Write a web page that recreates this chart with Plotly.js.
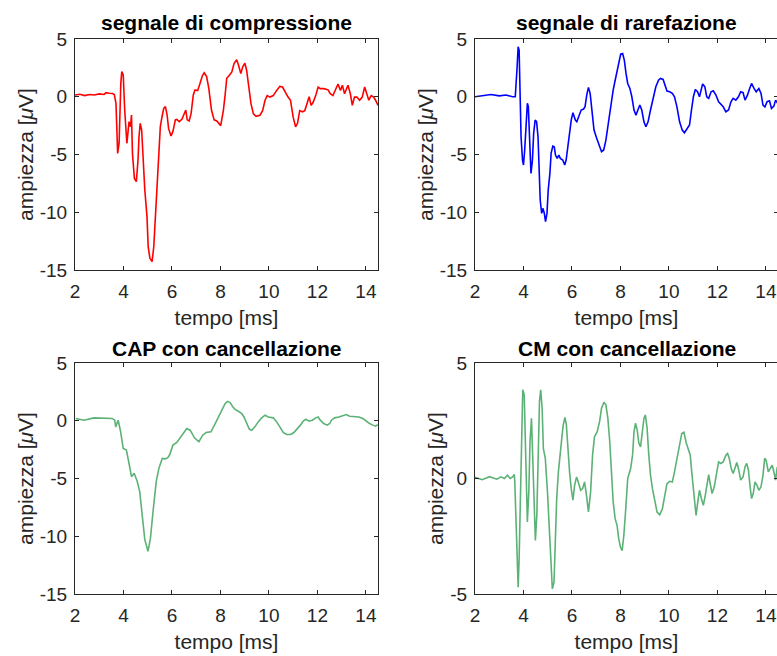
<!DOCTYPE html>
<html>
<head>
<meta charset="utf-8">
<script src="https://cdn.plot.ly/plotly-3.0.1.min.js"></script>
<style>
html, body { margin: 0; padding: 0; overflow: hidden; background: #fff; }
#chart { width: 780px; height: 656px; }
</style>
</head>
<body>
<div id="chart"></div>
<script>
// ---- data (time in ms, amplitude in microvolt) ----
const titles = ["segnale di compressione", "segnale di rarefazione", "CAP con cancellazione", "CM con cancellazione"];
const xTickVals = [2, 4, 6, 8, 10, 12, 14];
const yTickValsWide = [-15, -10, -5, 0, 5];
const yTickValsCM = [-5, 0, 5];

const tComp = [2.0,2.2,2.4,2.6,2.8,3.0,3.2,3.28,3.41,3.55,3.62,3.69,3.76,3.82,3.89,3.93,3.99,4.05,4.14,4.19,4.23,4.29,4.33,4.37,4.45,4.53,4.60,4.64,4.69,4.75,4.80,4.88,4.97,5.02,5.09,5.18,5.25,5.32,5.39,5.46,5.52,5.59,5.66,5.73,5.80,5.86,5.96,6.04,6.14,6.20,6.30,6.41,6.52,6.57,6.63,6.71,6.79,6.88,6.95,7.06,7.16,7.25,7.33,7.43,7.52,7.63,7.74,7.85,8.01,8.12,8.19,8.26,8.37,8.47,8.56,8.67,8.75,8.84,8.92,9.01,9.08,9.16,9.26,9.36,9.47,9.63,9.74,9.84,9.93,10.04,10.18,10.32,10.45,10.56,10.66,10.79,10.89,11.0,11.1,11.18,11.27,11.38,11.48,11.58,11.66,11.74,11.82,11.93,12.03,12.12,12.26,12.44,12.53,12.64,12.75,12.85,12.95,13.03,13.12,13.26,13.36,13.44,13.53,13.63,13.74,13.85,13.95,14.04,14.12,14.22,14.32,14.4,14.5];
const vComp = [0.15,0.22,0.1,0.2,0.15,0.25,0.2,0.35,0.3,0.28,0.2,-0.57,-4.9,-4.0,1.16,2.17,1.88,-1.15,-4.03,-3.17,-2.16,-2.59,-1.58,-4.9,-7.07,-7.35,-5.48,-3.46,-2.3,-2.88,-5.48,-8.08,-10.38,-12.98,-13.99,-14.28,-12.98,-10.38,-7.21,-4.32,-2.59,-1.73,-1.0,-0.86,-1.58,-2.74,-3.4,-3.0,-2.0,-1.96,-2.16,-1.96,-1.29,-1.15,-2.0,-2.1,-1.44,0.15,0.58,0.53,1.16,1.8,2.08,1.74,0.73,-1.15,-2.0,-2.1,-2.5,-1.2,0.1,1.6,1.86,2.15,2.87,3.2,2.7,2.0,2.6,2.9,2.3,0.84,-0.6,-1.48,-1.7,-1.6,-1.2,-0.3,0.1,-0.03,0.1,0.55,0.9,0.84,0.4,-0.03,-0.3,-1.77,-2.6,-2.3,-1.2,-1.3,-1.2,-0.5,0.0,-0.75,-0.5,0.1,0.84,0.7,0.7,0.6,0.26,0.1,0.7,1.1,0.55,1.0,0.26,1.0,0.26,-0.75,-0.03,-0.03,-0.3,-0.03,0.84,0.26,-0.3,0.1,-0.03,-0.3,-0.75];

const tRare = [2.0,2.3,2.66,3.0,3.28,3.55,3.66,3.73,3.78,3.82,3.86,3.9,3.96,4.0,4.05,4.11,4.16,4.2,4.26,4.31,4.37,4.42,4.48,4.54,4.6,4.64,4.69,4.75,4.8,4.86,4.91,4.97,5.02,5.09,5.14,5.21,5.27,5.32,5.39,5.46,5.52,5.62,5.7,5.76,5.82,5.89,5.97,6.04,6.14,6.2,6.3,6.38,6.48,6.54,6.61,6.68,6.75,6.82,6.91,7.02,7.13,7.22,7.31,7.4,7.5,7.61,7.7,7.77,7.85,7.93,8.01,8.09,8.16,8.23,8.3,8.39,8.47,8.56,8.64,8.72,8.8,8.88,8.97,9.05,9.14,9.24,9.35,9.46,9.57,9.65,9.76,9.84,9.92,10.03,10.14,10.23,10.33,10.44,10.55,10.64,10.74,10.85,10.93,11.01,11.09,11.18,11.26,11.33,11.39,11.48,11.56,11.64,11.74,11.83,11.94,12.05,12.16,12.24,12.35,12.46,12.56,12.65,12.76,12.87,12.96,13.06,13.14,13.24,13.33,13.41,13.51,13.6,13.71,13.8,13.88,13.96,14.05,14.15,14.23,14.33,14.4,14.5];
const vRare = [0.0,0.1,0.2,0.08,0.15,0.0,0.0,2.31,4.33,4.04,0.58,-3.46,-5.48,-5.91,-4.61,-1.73,-0.57,-0.86,-4.33,-6.64,-5.48,-3.17,-2.02,-2.16,-3.46,-6.35,-8.94,-10.1,-9.66,-10.1,-10.82,-10.1,-8.08,-6.64,-4.9,-4.27,-4.33,-5.05,-5.34,-5.05,-5.34,-5.48,-5.91,-5.48,-4.33,-3.17,-2.02,-1.38,-2.02,-2.16,-1.67,-1.15,-1.06,-0.86,0.15,0.81,0.29,-1.29,-2.88,-3.6,-4.33,-4.76,-4.61,-3.75,-2.31,-0.57,0.58,1.3,2.02,2.88,3.69,3.75,3.17,2.02,1.15,0.72,0.0,-1.15,-1.59,-1.15,-0.72,-1.15,-2.17,-2.6,-2.17,-1.15,0.0,0.87,1.44,1.59,1.5,0.87,0.49,0.43,0.29,0.0,-0.87,-2.17,-2.89,-3.12,-2.74,-2.45,-1.15,0.0,0.63,0.43,0.0,0.58,1.1,0.87,0.0,-0.14,0.43,0.52,0.14,-0.43,-0.64,-0.87,-1.3,-1.15,-0.43,-0.14,-0.29,0.0,0.43,0.35,-0.29,0.14,0.72,1.15,0.72,0.43,0.72,0.29,-0.72,-0.87,-0.43,-0.35,-1.01,-0.81,-0.29,-0.6];

const tCap = [2.03,2.37,2.78,3.03,3.19,3.53,3.64,3.68,3.78,3.87,3.99,4.12,4.23,4.33,4.44,4.56,4.67,4.78,4.88,5.01,5.11,5.22,5.35,5.46,5.6,5.73,5.83,5.9,6.04,6.2,6.42,6.61,6.75,6.93,7.11,7.27,7.41,7.61,7.82,7.99,8.1,8.19,8.29,8.4,8.51,8.6,8.74,8.88,8.97,9.08,9.19,9.29,9.42,9.56,9.7,9.84,9.97,10.18,10.32,10.45,10.59,10.73,10.89,11.03,11.16,11.3,11.41,11.52,11.66,11.79,11.93,12.03,12.12,12.26,12.4,12.51,12.58,12.71,12.89,12.99,13.08,13.19,13.33,13.53,13.71,13.88,14.01,14.15,14.29,14.4,14.49];
const vCap = [0.19,0.05,0.25,0.22,0.25,0.2,0.05,-0.53,0.04,-0.82,-2.4,-2.54,-3.7,-4.84,-4.55,-5.2,-6.13,-8.43,-10.3,-11.3,-10.2,-7.86,-5.27,-4.12,-3.26,-3.3,-3.2,-2.97,-2.11,-1.88,-1.25,-0.67,-0.82,-1.48,-1.82,-1.25,-1.02,-0.96,-0.1,0.62,1.11,1.48,1.68,1.57,1.2,0.99,0.82,0.62,0.33,-0.24,-0.73,-0.82,-0.53,-0.1,0.25,0.48,0.33,0.25,-0.1,-0.53,-1.02,-1.19,-1.19,-1.02,-0.73,-0.38,-0.04,0.13,-0.04,0.05,0.25,0.33,0.05,-0.24,-0.38,-0.24,0.05,0.25,0.33,0.39,0.48,0.54,0.39,0.39,0.33,0.19,-0.04,-0.24,-0.38,-0.47,-0.33];

const tCM = [2.0,2.3,2.6,2.9,3.07,3.21,3.34,3.45,3.55,3.62,3.64,3.68,3.73,3.78,3.82,3.86,3.92,3.97,4.03,4.07,4.12,4.16,4.22,4.27,4.33,4.38,4.44,4.49,4.55,4.6,4.66,4.71,4.77,4.82,4.9,4.99,5.05,5.12,5.19,5.26,5.3,5.37,5.44,5.51,5.58,5.64,5.71,5.77,5.84,5.9,5.97,6.04,6.11,6.19,6.26,6.36,6.44,6.52,6.6,6.68,6.77,6.85,6.93,7.04,7.14,7.22,7.32,7.4,7.48,7.56,7.63,7.7,7.78,7.86,7.93,8.0,8.07,8.14,8.22,8.3,8.42,8.5,8.56,8.62,8.69,8.76,8.83,8.88,8.97,9.03,9.1,9.17,9.24,9.32,9.42,9.51,9.62,9.73,9.83,9.92,10.03,10.14,10.23,10.33,10.44,10.53,10.62,10.71,10.81,10.88,10.94,11.01,11.07,11.12,11.19,11.26,11.34,11.42,11.5,11.59,11.64,11.69,11.78,11.87,11.97,12.05,12.14,12.24,12.35,12.42,12.49,12.57,12.65,12.73,12.8,12.87,12.96,13.06,13.14,13.21,13.28,13.35,13.41,13.48,13.55,13.63,13.71,13.8,13.88,13.95,14.01,14.1,14.18,14.26,14.33,14.4,14.47];
const vCM = [0.05,-0.05,0.08,-0.03,0.07,0.0,0.14,0.0,0.07,0.17,-0.08,-1.3,-3.05,-4.71,-3.48,-1.3,1.59,3.84,3.62,1.59,-0.58,-1.88,-0.58,1.59,2.61,0.87,-1.6,-2.68,-1.6,0.87,3.33,3.84,3.04,1.3,0.87,-0.58,-2.03,-3.62,-4.78,-4.49,-3.19,-0.87,0.29,1.16,1.74,2.32,2.64,2.32,1.16,0.29,-0.44,-0.94,-0.29,0.07,-0.15,-0.51,-0.44,-0.15,-0.73,-1.45,-0.58,1.01,1.81,2.03,2.46,3.04,3.3,3.19,2.61,1.59,0.29,-1.01,-1.74,-2.03,-2.61,-2.97,-3.12,-2.46,-1.3,0.0,0.43,1.01,2.03,2.39,2.1,1.52,1.37,1.88,2.61,2.75,2.17,1.01,0.14,-0.44,-1.01,-1.45,-1.57,-1.31,-0.73,-0.22,-0.12,-0.15,0.29,0.87,1.52,1.95,2.0,1.56,1.23,1.01,0.29,-0.44,-1.16,-1.6,-1.01,-0.51,-0.87,-1.16,-0.73,-0.15,0.17,-0.15,-0.65,-0.36,0.29,0.72,0.65,0.72,1.01,1.08,0.87,0.43,0.22,0.43,0.69,0.43,-0.07,0.07,0.51,0.65,0.36,-0.36,-0.87,-0.65,-0.15,-0.29,-0.51,-0.36,0.14,0.87,0.8,0.29,0.43,0.58,0.29,-0.07,0.5];

// ---- layout helpers ----
const W = 780, H = 656;
const FONT = "Liberation Sans, Arial, Helvetica, sans-serif";
const AXC = "#262626";
const px = x => x / W;
const py = y => 1 - y / H;

function xAxis(domain, anchor) {
  return {
    domain: domain, anchor: anchor, range: [2, 14.5],
    tickmode: "array", tickvals: xTickVals, ticktext: xTickVals.map(String),
    showline: true, linecolor: AXC, linewidth: 1, mirror: "ticks",
    ticks: "inside", ticklen: 4, tickcolor: AXC, tickwidth: 1,
    showgrid: false, zeroline: false, ticklabelstandoff: 4,
    tickfont: {family: FONT, size: 19, color: AXC},
    title: {text: "tempo [ms]", font: {family: FONT, size: 21, color: AXC}, standoff: 9}
  };
}
function yAxis(domain, anchor, range, ticks) {
  return {
    domain: domain, anchor: anchor, range: range,
    tickmode: "array", tickvals: ticks, ticktext: ticks.map(String),
    showline: true, linecolor: AXC, linewidth: 1, mirror: "ticks",
    ticks: "inside", ticklen: 4, tickcolor: AXC, tickwidth: 1,
    showgrid: false, zeroline: false, ticklabelstandoff: 3,
    tickfont: {family: FONT, size: 19, color: AXC},
    title: {text: "ampiezza [<i>μ</i>V]", font: {family: FONT, size: 21, color: AXC}, standoff: 0}
  };
}

const xL = [px(75), px(378)], xR = [px(475), px(778)];
const yT = [py(270), py(39)], yB = [py(594), py(363)];

const GREEN = "rgb(92,178,118)";
const traces = [
  {x: tComp, y: vComp, xaxis: "x", yaxis: "y", mode: "lines", line: {color: "#ff0000", width: 1.6}, showlegend: false},
  {x: tRare, y: vRare, xaxis: "x2", yaxis: "y2", mode: "lines", line: {color: "#0000ff", width: 1.6}, showlegend: false},
  {x: tCap, y: vCap, xaxis: "x3", yaxis: "y3", mode: "lines", line: {color: GREEN, width: 1.6}, showlegend: false},
  {x: tCM, y: vCM, xaxis: "x4", yaxis: "y4", mode: "lines", line: {color: GREEN, width: 1.6}, showlegend: false}
];

const titleCenters = [[226.5, 22], [626.5, 22], [226.5, 348], [626.5, 348]];
const annotations = titles.map((t, i) => ({
  text: "<b>" + t + "</b>", xref: "paper", yref: "paper",
  x: px(titleCenters[i][0]), y: py(titleCenters[i][1]),
  xanchor: "center", yanchor: "middle", showarrow: false,
  font: {family: FONT, size: 21, color: "#000"}
}));

const layout = {
  width: W, height: H,
  margin: {l: 0, r: 0, t: 0, b: 0, pad: 0},
  paper_bgcolor: "#ffffff", plot_bgcolor: "#ffffff",
  showlegend: false,
  xaxis: xAxis(xL, "y"), yaxis: yAxis(yT, "x", [-15, 5], yTickValsWide),
  xaxis2: xAxis(xR, "y2"), yaxis2: yAxis(yT, "x2", [-15, 5], yTickValsWide),
  xaxis3: xAxis(xL, "y3"), yaxis3: yAxis(yB, "x3", [-15, 5], yTickValsWide),
  xaxis4: xAxis(xR, "y4"), yaxis4: yAxis(yB, "x4", [-5, 5], yTickValsCM),
  annotations: annotations
};

Plotly.newPlot("chart", traces, layout, {staticPlot: true, displayModeBar: false});
</script>
</body>
</html>
